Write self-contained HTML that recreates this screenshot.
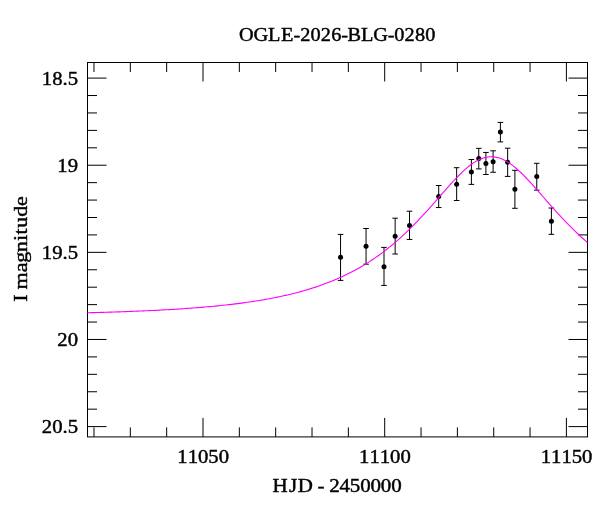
<!DOCTYPE html>
<html><head><meta charset="utf-8"><title>OGLE-2026-BLG-0280</title>
<style>html,body{margin:0;padding:0;background:#fff}svg{display:block}text{font-family:'Liberation Serif','DejaVu Serif',serif;font-size:19.7px;fill:#000;stroke:#000;stroke-width:0.45px}.tx{opacity:0.999}</style></head>
<body>
<svg width="600" height="512" viewBox="0 0 600 512">
<rect width="600" height="512" fill="#fff"/>
<g stroke="#000" stroke-width="1" fill="none">
<rect x="87.50" y="62.50" width="500.00" height="374.40"/>
<path d="M93.98 62.50v9.50M93.98 436.90v-9.50M130.32 62.50v9.50M130.32 436.90v-9.50M166.66 62.50v9.50M166.66 436.90v-9.50M203.00 62.50v19.00M203.00 436.90v-19.00M239.34 62.50v9.50M239.34 436.90v-9.50M275.68 62.50v9.50M275.68 436.90v-9.50M312.02 62.50v9.50M312.02 436.90v-9.50M348.36 62.50v9.50M348.36 436.90v-9.50M384.70 62.50v19.00M384.70 436.90v-19.00M421.04 62.50v9.50M421.04 436.90v-9.50M457.38 62.50v9.50M457.38 436.90v-9.50M493.72 62.50v9.50M493.72 436.90v-9.50M530.06 62.50v9.50M530.06 436.90v-9.50M566.40 62.50v19.00M566.40 436.90v-19.00M87.50 78.10h19.00M587.50 78.10h-19.00M87.50 95.53h9.50M587.50 95.53h-9.50M87.50 112.95h9.50M587.50 112.95h-9.50M87.50 130.38h9.50M587.50 130.38h-9.50M87.50 147.80h9.50M587.50 147.80h-9.50M87.50 165.22h19.00M587.50 165.22h-19.00M87.50 182.65h9.50M587.50 182.65h-9.50M87.50 200.07h9.50M587.50 200.07h-9.50M87.50 217.50h9.50M587.50 217.50h-9.50M87.50 234.92h9.50M587.50 234.92h-9.50M87.50 252.35h19.00M587.50 252.35h-19.00M87.50 269.78h9.50M587.50 269.78h-9.50M87.50 287.20h9.50M587.50 287.20h-9.50M87.50 304.63h9.50M587.50 304.63h-9.50M87.50 322.05h9.50M587.50 322.05h-9.50M87.50 339.48h19.00M587.50 339.48h-19.00M87.50 356.90h9.50M587.50 356.90h-9.50M87.50 374.32h9.50M587.50 374.32h-9.50M87.50 391.75h9.50M587.50 391.75h-9.50M87.50 409.17h9.50M587.50 409.17h-9.50M87.50 426.60h19.00M587.50 426.60h-19.00"/>
</g>
<path d="M340.55 234.40V280.40M337.75 234.40h5.6M337.75 280.40h5.6M366.05 228.50V264.20M363.25 228.50h5.6M363.25 264.20h5.6M384.00 247.40V285.40M381.20 247.40h5.6M381.20 285.40h5.6M395.15 218.20V254.00M392.35 218.20h5.6M392.35 254.00h5.6M409.50 211.20V239.45M406.70 211.20h5.6M406.70 239.45h5.6M438.70 185.50V207.55M435.90 185.50h5.6M435.90 207.55h5.6M456.65 167.70V200.50M453.85 167.70h5.6M453.85 200.50h5.6M471.40 159.50V184.40M468.60 159.50h5.6M468.60 184.40h5.6M478.75 148.35V168.90M475.95 148.35h5.6M475.95 168.90h5.6M485.90 152.45V174.50M483.10 152.45h5.6M483.10 174.50h5.6M493.10 150.80V172.25M490.30 150.80h5.6M490.30 172.25h5.6M500.40 122.40V141.90M497.60 122.40h5.6M497.60 141.90h5.6M507.65 148.20V176.40M504.85 148.20h5.6M504.85 176.40h5.6M514.90 170.30V208.30M512.10 170.30h5.6M512.10 208.30h5.6M536.75 163.30V190.15M533.95 163.30h5.6M533.95 190.15h5.6M551.40 208.00V234.35M548.60 208.00h5.6M548.60 234.35h5.6" stroke="#000" stroke-width="1" fill="none"/>
<g fill="#000"><circle cx="340.55" cy="257.30" r="2.5"/><circle cx="366.05" cy="246.25" r="2.5"/><circle cx="384.00" cy="266.65" r="2.5"/><circle cx="395.15" cy="236.35" r="2.5"/><circle cx="409.50" cy="225.40" r="2.5"/><circle cx="438.70" cy="196.40" r="2.5"/><circle cx="456.65" cy="184.30" r="2.5"/><circle cx="471.40" cy="171.90" r="2.5"/><circle cx="478.75" cy="158.40" r="2.5"/><circle cx="485.90" cy="163.55" r="2.5"/><circle cx="493.10" cy="161.70" r="2.5"/><circle cx="500.40" cy="132.00" r="2.5"/><circle cx="507.65" cy="162.15" r="2.5"/><circle cx="514.90" cy="189.15" r="2.5"/><circle cx="536.75" cy="176.60" r="2.5"/><circle cx="551.40" cy="221.20" r="2.5"/></g>
<path d="M87.50 312.78 L89.50 312.73 L91.50 312.67 L93.50 312.62 L95.50 312.57 L97.50 312.51 L99.50 312.46 L101.50 312.40 L103.50 312.34 L105.50 312.28 L107.50 312.22 L109.50 312.16 L111.50 312.10 L113.50 312.03 L115.50 311.97 L117.50 311.90 L119.50 311.83 L121.50 311.76 L123.50 311.69 L125.50 311.62 L127.50 311.55 L129.50 311.47 L131.50 311.39 L133.50 311.32 L135.50 311.24 L137.50 311.15 L139.50 311.07 L141.50 310.98 L143.50 310.90 L145.50 310.81 L147.50 310.72 L149.50 310.62 L151.50 310.53 L153.50 310.43 L155.50 310.33 L157.50 310.23 L159.50 310.13 L161.50 310.02 L163.50 309.92 L165.50 309.80 L167.50 309.69 L169.50 309.58 L171.50 309.46 L173.50 309.34 L175.50 309.22 L177.50 309.09 L179.50 308.96 L181.50 308.83 L183.50 308.70 L185.50 308.56 L187.50 308.42 L189.50 308.27 L191.50 308.13 L193.50 307.98 L195.50 307.82 L197.50 307.67 L199.50 307.51 L201.50 307.34 L203.50 307.17 L205.50 307.00 L207.50 306.82 L209.50 306.64 L211.50 306.46 L213.50 306.27 L215.50 306.08 L217.50 305.88 L219.50 305.68 L221.50 305.47 L223.50 305.26 L225.50 305.04 L227.50 304.82 L229.50 304.59 L231.50 304.36 L233.50 304.12 L235.50 303.87 L237.50 303.62 L239.50 303.37 L241.50 303.11 L243.50 302.84 L245.50 302.56 L247.50 302.28 L249.50 301.99 L251.50 301.70 L253.50 301.39 L255.50 301.08 L257.50 300.76 L259.50 300.44 L261.50 300.10 L263.50 299.76 L265.50 299.41 L267.50 299.05 L269.50 298.68 L271.50 298.30 L273.50 297.92 L275.50 297.52 L277.50 297.11 L279.50 296.70 L281.50 296.27 L283.50 295.83 L285.50 295.38 L287.50 294.92 L289.50 294.45 L291.50 293.97 L293.50 293.47 L295.50 292.96 L297.50 292.44 L299.50 291.91 L301.50 291.36 L303.50 290.80 L305.50 290.22 L307.50 289.63 L309.50 289.02 L311.50 288.40 L313.50 287.76 L315.50 287.11 L317.50 286.44 L319.50 285.75 L321.50 285.05 L323.50 284.33 L325.50 283.59 L327.50 282.83 L329.50 282.05 L331.50 281.25 L333.50 280.43 L335.50 279.59 L337.50 278.73 L339.50 277.84 L341.50 276.94 L343.50 276.01 L345.50 275.06 L347.50 274.08 L349.50 273.08 L351.50 272.06 L353.50 271.01 L355.50 269.93 L357.50 268.83 L359.50 267.70 L361.50 266.54 L363.50 265.36 L365.50 264.14 L367.50 262.90 L369.50 261.62 L371.50 260.32 L373.50 258.98 L375.50 257.62 L377.50 256.22 L379.50 254.79 L381.50 253.32 L383.50 251.83 L385.50 250.30 L387.50 248.73 L389.50 247.13 L391.50 245.50 L393.50 243.83 L395.50 242.13 L397.50 240.39 L399.50 238.61 L401.50 236.80 L403.50 234.96 L405.50 233.08 L407.50 231.17 L409.50 229.22 L411.50 227.24 L413.50 225.22 L415.50 223.18 L417.50 221.10 L419.50 218.99 L421.50 216.86 L423.50 214.70 L425.50 212.51 L427.50 210.30 L429.50 208.07 L431.50 205.82 L433.50 203.56 L435.50 201.28 L437.50 199.00 L439.50 196.71 L441.50 194.42 L443.50 192.14 L445.50 189.87 L447.50 187.61 L449.50 185.38 L451.50 183.17 L453.50 181.00 L455.50 178.87 L457.50 176.78 L459.50 174.76 L461.50 172.80 L463.50 170.92 L465.50 169.11 L467.50 167.40 L469.50 165.79 L471.50 164.28 L473.50 162.89 L475.50 161.62 L477.50 160.49 L479.50 159.49 L481.50 158.64 L483.50 157.94 L485.50 157.40 L487.50 157.01 L489.50 156.78 L491.50 156.72 L493.50 156.82 L495.50 157.09 L497.50 157.51 L499.50 158.09 L501.50 158.83 L503.50 159.71 L505.50 160.74 L507.50 161.91 L509.50 163.20 L511.50 164.62 L513.50 166.15 L515.50 167.79 L517.50 169.52 L519.50 171.35 L521.50 173.25 L523.50 175.23 L525.50 177.26 L527.50 179.36 L529.50 181.50 L531.50 183.68 L533.50 185.89 L535.50 188.14 L537.50 190.40 L539.50 192.67 L541.50 194.96 L543.50 197.24 L545.50 199.53 L547.50 201.81 L549.50 204.08 L551.50 206.34 L553.50 208.59 L555.50 210.82 L557.50 213.02 L559.50 215.20 L561.50 217.36 L563.50 219.49 L565.50 221.59 L567.50 223.66 L569.50 225.70 L571.50 227.70 L573.50 229.68 L575.50 231.62 L577.50 233.52 L579.50 235.39 L581.50 237.23 L583.50 239.03 L585.50 240.79 L587.50 242.53" fill="none" stroke="#ff00ff" stroke-width="1.1"/>
<g class="tx">
<text transform="translate(239.10 41.10) scale(1.0315 1)" x="-0.10 13.93 28.05 40.58 52.83 59.20 69.22 79.25 89.27 98.93 105.16 118.23 130.17 144.01 150.39 160.41 170.44 180.46">OGLE-2026-BLG-0280</text>
<text transform="translate(177.35 462.90) scale(1.0499 1)" x="0.00 9.85 19.70 29.55 39.40">11050</text>
<text transform="translate(359.05 462.90) scale(1.0499 1)" x="0.00 9.85 19.70 29.55 39.40">11100</text>
<text transform="translate(540.75 462.90) scale(1.0499 1)" x="0.00 9.85 19.70 29.55 39.40">11150</text>
<text transform="translate(41.80 84.85) scale(1.0499 1)" x="0.00 9.85 19.70 24.62">18.5</text>
<text transform="translate(57.32 171.97) scale(1.0499 1)" x="0.00 9.85">19</text>
<text transform="translate(41.80 259.10) scale(1.0499 1)" x="0.00 9.85 19.70 24.62">19.5</text>
<text transform="translate(57.32 346.23) scale(1.0499 1)" x="0.00 9.85">20</text>
<text transform="translate(41.80 433.35) scale(1.0499 1)" x="0.00 9.85 19.70 24.62">20.5</text>
<text transform="translate(272.38 491.70) scale(1.0651 1)" x="0.16 15.57 23.94 37.81 42.32 48.48 53.29 63.00 72.71 82.42 92.13 101.84 111.55">HJD - 2450000</text>
<text transform="translate(27.00 249.20) rotate(-90) translate(-52.70 0) scale(1.1170 1)" x="0.11 6.63 11.14 26.46 35.01 44.57 54.47 60.33 66.47 76.33 85.83">I magnitude</text>
</g>
</svg></body></html>
